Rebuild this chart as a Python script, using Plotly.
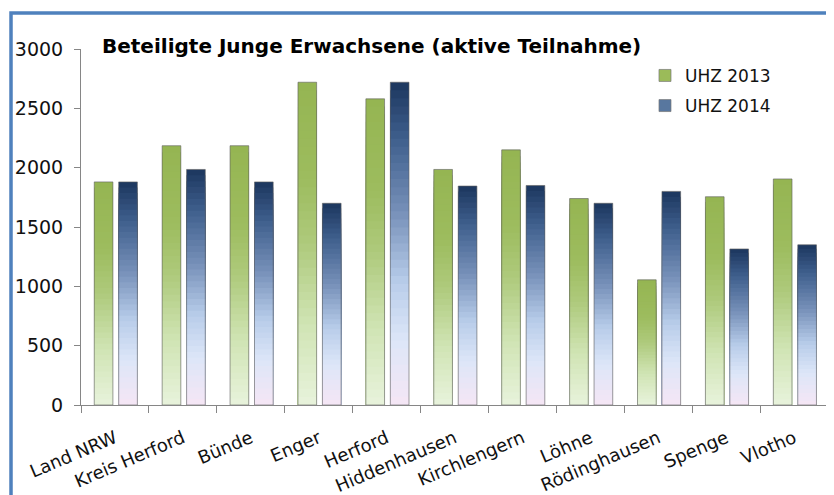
import plotly.graph_objects as go

categories = ["Land NRW", "Kreis Herford", "Bünde", "Enger", "Herford", "Hiddenhausen",
              "Kirchlengern", "Löhne", "Rödinghausen", "Spenge", "Vlotho"]
uhz_2013 = [1880, 2185, 2185, 2720, 2580, 1985, 2150, 1740, 1055, 1755, 1905]
uhz_2014 = [1880, 1985, 1880, 1700, 2720, 1845, 1850, 1700, 1800, 1315, 1350]
y_ticks = [0, 500, 1000, 1500, 2000, 2500, 3000]
series_names = ["UHZ 2013", "UHZ 2014"]

# gradient stops: (fraction from bottom, colour)
green_stops = [(0.0, "#e8f3dc"), (0.25, "#d0e4b4"), (0.5, "#aeca7c"), (0.7, "#9dbc5e"), (1.0, "#95b552")]
blue_stops = [(0.0, "#f5e6f5"), (0.2, "#dde6f8"), (0.38, "#b8cdea"), (0.6, "#7690b8"), (0.82, "#40608e"), (1.0, "#1c365e")]


def hex2rgb(h):
    h = h.lstrip("#")
    return tuple(int(h[i:i + 2], 16) for i in (0, 2, 4))


def interp(stops, f):
    for (p0, c0), (p1, c1) in zip(stops[:-1], stops[1:]):
        if p0 <= f <= p1:
            t = (f - p0) / (p1 - p0) if p1 > p0 else 0
            a, b = hex2rgb(c0), hex2rgb(c1)
            r = [round(a[i] + (b[i] - a[i]) * t) for i in range(3)]
            return "rgb(%d,%d,%d)" % tuple(r)
    return stops[-1][1]


N = 40
BAR_W = 0.275
offsets = [-0.305, 0.055]
legend_colors = ["#9bbb59", "#58779f"]

fig = go.Figure()
for vals, stops, off, name, lc in zip([uhz_2013, uhz_2014], [green_stops, blue_stops],
                                      offsets, series_names, legend_colors):
    # gradient built from nested bars drawn tallest first
    for j in range(N, 0, -1):
        f = (j - 0.5) / N
        fig.add_trace(go.Bar(
            x=categories, y=[v * j / N for v in vals],
            width=BAR_W, offset=off,
            marker=dict(color=interp(stops, f), line=dict(width=0)),
            showlegend=False, hoverinfo="skip", legendgroup=name,
        ))
    # outline
    fig.add_trace(go.Bar(
        x=categories, y=vals, width=BAR_W, offset=off, name=name,
        marker=dict(color="rgba(0,0,0,0)", line=dict(color="rgba(95,95,95,0.6)", width=1)),
        showlegend=False, legendgroup=name,
    ))
    # legend entry
    fig.add_trace(go.Bar(
        x=[categories[0]], y=[None], name=name, width=BAR_W, offset=off,
        marker=dict(color=lc, line=dict(color="rgba(120,120,120,0.7)", width=1)),
        showlegend=True, legendgroup=name, hoverinfo="skip",
    ))

fig.update_layout(
    width=826, height=487,
    margin=dict(l=73, r=6, t=41, b=90),
    barmode="overlay",
    paper_bgcolor="white", plot_bgcolor="white",
    font=dict(family="DejaVu Sans", color="#111111"),
    legend=dict(x=0.755, y=0.975, xanchor="left", yanchor="top",
                font=dict(family="DejaVu Sans", size=17, color="#111111"),
                bgcolor="rgba(0,0,0,0)", tracegroupgap=5, itemwidth=30),
    xaxis=dict(type="category", range=[-0.5, 10.5], tickangle=-23,
               tickson="boundaries", ticks="outside", ticklen=7, tickcolor="#868686",
               showline=True, linecolor="#868686", linewidth=1, showgrid=False,
               ticklabelstandoff=15, automargin=False,
               tickfont=dict(family="DejaVu Sans", size=18, color="#111111")),
    yaxis=dict(range=[0, 3000], tickvals=y_ticks, ticks="outside", ticklen=6,
               tickcolor="#868686", showline=True, linecolor="#868686", linewidth=1,
               showgrid=False, zeroline=False, ticklabelstandoff=7, automargin=False,
               tickfont=dict(family="DejaVu Sans", size=19, color="#111111")),
    annotations=[dict(text="<b>Beteiligte Junge Erwachsene (aktive Teilnahme)</b>",
                      xref="paper", yref="paper", x=0.0254, y=1.008,
                      xanchor="left", yanchor="middle", showarrow=False,
                      font=dict(family="DejaVu Sans", size=20, color="#000000"))],
    shapes=[dict(type="rect", xref="paper", yref="paper",
                 x0=-0.0937, x1=1.0025, y0=-0.3, y1=1.101,
                 line=dict(color="#4f81bd", width=3.5), fillcolor="rgba(0,0,0,0)",
                 layer="below")],
)

fig.write_html("out.html")
